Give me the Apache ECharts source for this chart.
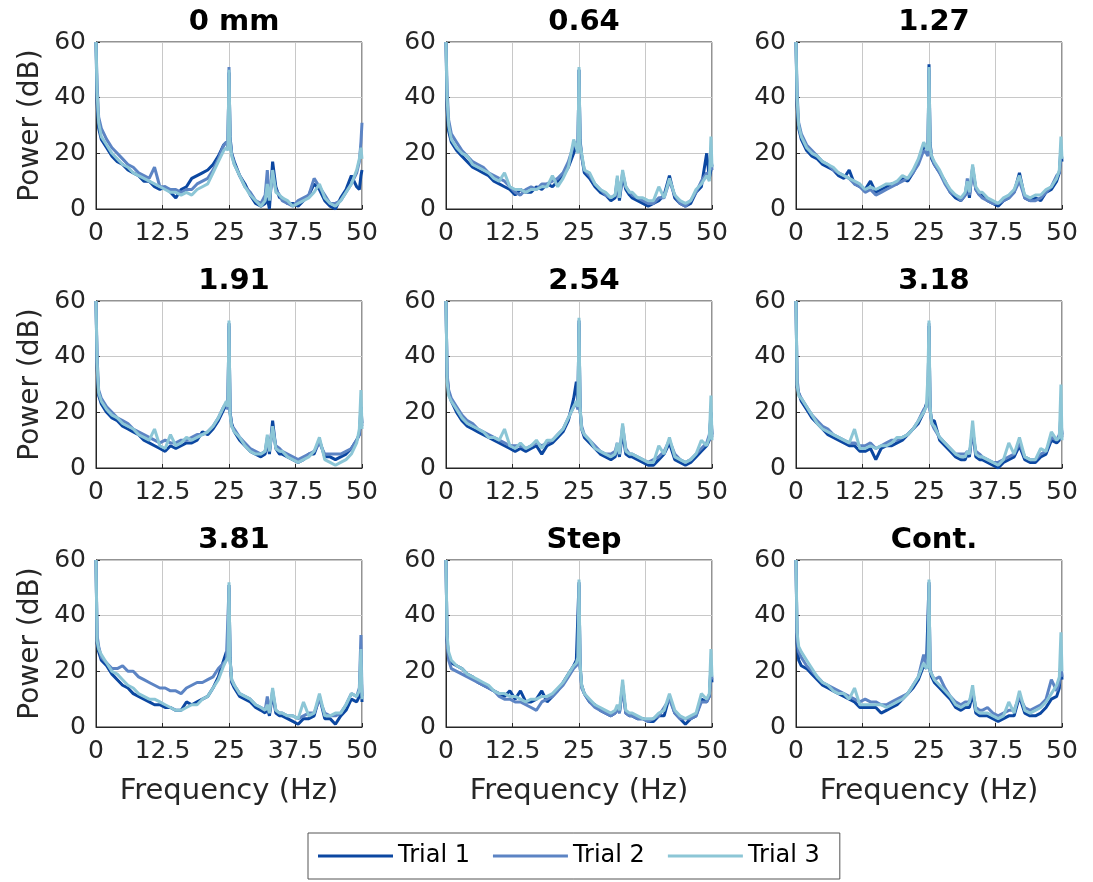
<!DOCTYPE html>
<html>
<head>
<meta charset="utf-8">
<script src="https://cdn.jsdelivr.net/npm/echarts@6/dist/echarts.min.js"></script>
<style>
html,body{margin:0;padding:0;background:#fff;}
#chart{width:1093px;height:882px;}
</style>
</head>
<body>
<div id="chart"></div>
<script>
// Frequency samples (Hz), shared by every series
const FREQ = [
  0, 0.2, 0.5, 1,
  2, 3, 4, 5, 6, 7, 8, 9, 10, 11, 12, 13, 14, 15, 16, 17, 18, 19, 20, 21, 22, 23,
  24, 24.5, 24.8, 25, 25.2, 25.5,
  26, 27, 28, 29, 30, 31,
  31.8, 32.2, 32.6, 33.2, 33.8, 34.5,
  35, 36, 37, 38, 39, 40, 41, 42, 43, 44, 45, 46, 47, 48, 49,
  49.5, 49.8, 50
];
const PANEL_TITLES = ['0 mm', '0.64', '1.27', '1.91', '2.54', '3.18', '3.81', 'Step', 'Cont.'];
const TRIAL_NAMES = ['Trial 1', 'Trial 2', 'Trial 3'];
const X_TICKS = [0, 12.5, 25, 37.5, 50];
const Y_TICKS = [0, 20, 40, 60];

// ---- 0 mm ----
const P0_T1 = [60,38,29,25, 22,19,17,16,14,13,12,10,10,8,7,8,6,4,7,8,11,12,13,14,16,19, 23,24,23,49,26,20, 17,12,9,5,2,1, 2,4,0,17,8,4, 4,2,2,1,3,5,9,7,3,1,0,4,7,12,8, 7,12,14];
const P0_T2 = [60,45,33,29, 25,22,20,18,16,15,13,12,11,15,8,8,7,7,6,7,7,9,10,11,14,18, 23,24,22,51,25,20, 16,12,8,6,3,2, 5,14,4,12,7,5, 3,2,1,3,4,5,11,8,5,2,2,3,6,9,13, 17,24,31];
const P0_T3 = [60,42,31,26, 23,20,18,16,15,13,12,11,10,9,8,7,6,6,5,6,5,7,8,9,13,17, 21,22,21,50,24,19, 16,12,8,5,3,1, 3,9,3,14,6,5, 4,3,1,2,3,4,6,9,4,2,1,3,6,9,14, 18,22,18];
// ---- 0.64 ----
const P1_T1 = [60,36,28,24, 21,19,17,15,14,13,12,10,9,8,7,5,7,6,6,8,7,9,8,10,12,15, 20,23,21,50,25,19, 13,11,8,6,5,3, 4,10,3,12,7,5, 4,3,2,1,2,3,5,12,4,2,1,2,6,8,20, 11,14,16];
const P1_T2 = [60,43,32,27, 24,21,19,17,16,15,13,12,11,10,8,6,5,7,8,7,9,9,10,11,13,17, 23,24,21,50,24,19, 14,12,9,7,5,4, 5,11,5,13,8,6, 5,4,3,2,2,4,4,10,5,2,1,3,6,10,13, 12,20,14];
const P1_T3 = [60,40,30,25, 22,20,19,16,15,14,13,11,10,13,8,7,7,6,7,7,8,8,12,8,11,15, 25,22,20,51,23,20, 14,13,9,7,6,4, 5,12,4,14,8,6, 6,4,4,3,3,8,4,11,5,3,2,3,7,9,12, 10,26,15];
// ---- 1.27 ----
const P2_T1 = [60,37,29,25, 21,19,18,16,15,14,12,11,14,9,8,7,10,6,7,8,9,9,11,10,13,17, 22,23,20,52,24,18, 16,13,10,6,4,3, 5,9,4,15,7,5, 5,3,2,1,3,4,6,13,4,3,4,3,6,7,10, 13,22,17];
const P2_T2 = [60,42,31,27, 23,21,19,17,16,14,13,12,11,9,8,6,7,5,6,7,8,9,10,11,13,16, 21,20,19,50,23,19, 16,13,9,6,5,3, 5,11,5,14,7,5, 4,3,2,2,3,4,6,10,4,3,3,4,6,8,12, 13,19,18];
const P2_T3 = [60,40,30,26, 22,20,19,17,16,15,13,12,11,10,9,7,8,7,8,9,9,10,12,11,14,18, 24,22,21,51,22,19, 17,14,10,7,5,4, 6,10,6,16,8,6, 6,4,3,2,4,5,7,12,5,4,5,5,7,8,11, 14,26,18];
// ---- 1.91 ----
const P3_T1 = [60,36,26,23, 20,18,17,15,14,13,12,10,9,8,7,6,8,7,8,9,9,10,13,12,14,17, 21,23,24,52,20,16, 13,10,8,6,5,4, 5,10,5,17,7,5, 5,4,3,2,3,5,5,10,4,4,3,4,5,7,10, 12,22,16];
const P3_T2 = [60,40,28,25, 22,20,18,17,16,14,13,12,11,10,9,10,9,9,10,10,11,12,12,13,15,18, 22,23,21,51,20,15, 14,11,9,7,6,5, 6,11,6,14,8,7, 6,5,4,3,4,5,6,9,5,5,5,5,6,7,10, 12,18,15];
const P3_T3 = [60,38,27,24, 21,19,18,16,15,14,12,11,10,14,8,7,12,8,9,11,10,11,12,13,15,18, 22,24,22,53,19,15, 13,11,8,6,5,5, 6,12,6,15,7,6, 6,4,3,2,3,4,6,11,3,2,1,2,3,5,9, 14,28,14];
// ---- 2.54 ----
const P4_T1 = [60,33,27,24, 20,17,15,14,13,12,11,10,9,8,7,6,7,6,7,8,5,8,9,11,13,17, 25,31,23,53,21,14, 11,9,7,5,4,3, 4,8,4,13,5,4, 4,3,2,1,1,3,5,9,3,2,1,2,4,6,8, 10,20,12];
const P4_T2 = [60,34,28,25, 22,19,17,16,14,13,12,11,10,9,8,8,8,7,8,9,8,9,10,12,14,18, 22,23,21,52,21,15, 12,10,8,6,5,5, 6,9,5,15,7,5, 5,4,3,2,3,4,6,10,5,3,2,3,5,7,9, 12,18,11];
const P4_T3 = [60,31,26,24, 21,18,16,15,14,13,11,11,10,14,8,7,9,7,8,10,7,10,10,12,14,18, 22,24,22,54,22,14, 12,10,7,6,5,4, 5,9,5,16,6,5, 5,4,3,2,2,8,5,11,4,3,2,3,5,10,8, 11,26,10];
// ---- 3.18 ----
const P5_T1 = [60,29,27,24, 21,18,16,14,12,11,10,9,8,8,6,6,7,3,7,8,8,9,10,12,14,16, 20,23,24,51,21,17, 17,10,8,6,4,3, 3,5,4,14,4,3, 3,2,1,0,2,3,4,8,3,2,2,4,5,10,9, 10,16,12];
const P5_T2 = [60,32,27,25, 22,19,17,15,14,12,11,10,9,9,8,8,9,7,8,9,10,10,11,12,14,17, 21,22,23,52,21,16, 14,11,9,7,5,5, 5,6,5,13,6,5, 4,3,2,2,3,4,5,9,4,3,3,5,6,11,10, 12,19,11];
const P5_T3 = [60,30,26,25, 22,19,16,14,13,12,11,10,9,14,7,7,8,7,8,8,9,11,11,12,14,17, 20,22,33,53,22,16, 15,11,9,7,5,4, 4,6,5,17,5,4, 4,3,2,1,3,9,5,11,4,3,3,7,6,13,10, 11,30,10];
// ---- 3.81 ----
const P6_T1 = [60,30,27,24, 22,19,17,15,14,12,11,10,9,8,8,7,7,6,6,9,8,9,10,11,14,18, 24,27,26,51,25,16, 14,11,10,9,7,6, 5,7,4,12,5,4, 4,3,2,1,3,3,4,11,3,3,1,4,6,10,9, 11,24,9];
const P6_T2 = [60,33,29,25, 23,21,21,22,20,20,18,17,16,15,14,14,13,13,12,14,15,16,16,17,18,21, 23,24,24,50,24,17, 15,12,11,10,8,7, 6,11,5,13,6,5, 5,4,4,3,4,5,5,10,5,4,4,5,8,12,11, 14,33,11];
const P6_T3 = [60,31,28,26, 23,20,19,17,15,14,12,11,10,10,9,8,7,6,6,7,8,8,10,11,14,17, 22,24,25,52,24,17, 15,12,11,10,8,7, 6,8,5,14,6,5, 5,4,4,3,9,4,5,12,4,4,5,5,8,12,11, 13,28,10];
// ---- Step ----
const P7_T1 = [60,31,26,23, 22,21,19,18,16,15,14,13,12,11,13,10,13,9,9,10,13,9,11,13,16,19, 22,24,24,52,22,15, 12,9,8,6,5,4, 5,7,5,15,5,4, 4,3,3,2,2,4,4,11,5,3,1,3,4,10,9, 11,22,16];
const P7_T2 = [60,30,24,21, 20,19,18,17,16,15,14,13,11,10,10,9,9,8,7,6,9,10,11,13,15,18, 21,22,23,51,22,14, 12,9,7,6,5,4, 5,7,5,14,5,4, 4,3,3,2,3,4,7,10,5,3,3,3,4,9,9, 11,20,17];
const P7_T3 = [60,33,27,24, 22,21,19,18,17,16,15,13,12,12,11,11,10,9,10,10,11,11,12,14,16,19, 22,23,25,53,23,15, 12,10,8,7,6,5, 6,8,6,17,6,5, 5,4,3,3,3,5,6,12,6,4,3,4,5,12,10, 12,28,18];
// ---- Cont. ----
const P8_T1 = [60,30,24,22, 21,19,17,15,14,13,12,11,10,9,7,7,7,7,5,6,7,8,10,12,14,17, 22,21,21,52,20,18, 16,14,12,10,7,6, 7,7,7,12,5,4, 4,4,3,2,3,4,4,11,5,4,4,5,7,10,11, 14,24,17];
const P8_T2 = [60,32,27,25, 22,20,18,16,15,14,13,12,11,10,9,10,9,9,8,8,9,10,11,12,15,18, 26,22,21,51,21,19, 17,18,14,11,9,8, 9,9,9,13,7,6, 6,7,5,4,5,6,6,11,7,6,7,8,10,17,13, 16,22,18];
const P8_T3 = [60,34,29,27, 24,21,18,16,15,13,12,12,10,14,8,8,8,8,8,7,8,9,10,12,15,18, 23,21,22,53,20,19, 17,15,13,11,8,7, 8,8,9,15,6,5, 5,5,4,3,4,9,5,13,6,5,6,7,9,12,15, 18,34,20];

const PANELS = [
  [P0_T1, P0_T2, P0_T3], [P1_T1, P1_T2, P1_T3], [P2_T1, P2_T2, P2_T3],
  [P3_T1, P3_T2, P3_T3], [P4_T1, P4_T2, P4_T3], [P5_T1, P5_T2, P5_T3],
  [P6_T1, P6_T2, P6_T3], [P7_T1, P7_T2, P7_T3], [P8_T1, P8_T2, P8_T3]
];

// ---- layout & style ----
const COL_LEFT = [96, 446, 796];
const ROW_TOP = [42, 301, 560];
const PW = 266, PH = 167;
const COLORS = ['#0b47a1', '#5c84c4', '#8cc6d6'];
const AXIS_COLOR = '#262626';
const FONT = 'DejaVu Sans';

const grids = [], xAxes = [], yAxes = [], titles = [], series = [];
for (let i = 0; i < 9; i++) {
  const r = Math.floor(i / 3), c = i % 3;
  grids.push({
    left: COL_LEFT[c], top: ROW_TOP[r], width: PW, height: PH,
    show: true, borderColor: AXIS_COLOR, borderWidth: 1, backgroundColor: 'transparent'
  });
  xAxes.push({
    gridIndex: i, type: 'value', min: X_TICKS[0], max: X_TICKS[X_TICKS.length - 1],
    interval: X_TICKS[1] - X_TICKS[0],
    name: r === 2 ? 'Frequency (Hz)' : '', nameLocation: 'middle', nameGap: 50,
    nameTextStyle: { fontFamily: FONT, fontSize: 29, color: AXIS_COLOR },
    axisLine: { show: true, lineStyle: { color: AXIS_COLOR, width: 1 } },
    axisTick: { show: true, inside: true, length: 4, lineStyle: { color: AXIS_COLOR } },
    axisLabel: { fontFamily: FONT, fontSize: 25, color: AXIS_COLOR, margin: 12,
      showMinLabel: true, showMaxLabel: true },
    splitLine: { show: true, lineStyle: { color: '#c8c8c8', width: 1 } }
  });
  yAxes.push({
    gridIndex: i, type: 'value', min: Y_TICKS[0], max: Y_TICKS[Y_TICKS.length - 1],
    interval: Y_TICKS[1] - Y_TICKS[0],
    name: c === 0 ? 'Power (dB)' : '', nameLocation: 'middle', nameGap: 51, nameRotate: 90,
    nameTextStyle: { fontFamily: FONT, fontSize: 28, color: AXIS_COLOR },
    axisLine: { show: true, lineStyle: { color: AXIS_COLOR, width: 1 } },
    axisTick: { show: true, inside: true, length: 4, lineStyle: { color: AXIS_COLOR } },
    axisLabel: { fontFamily: FONT, fontSize: 25, color: AXIS_COLOR, margin: 10 },
    splitLine: { show: true, lineStyle: { color: '#c8c8c8', width: 1 } }
  });
  titles.push({
    text: PANEL_TITLES[i], left: COL_LEFT[c] + PW / 2, top: ROW_TOP[r] - 39, textAlign: 'center',
    textStyle: { fontFamily: FONT, fontSize: 29, fontWeight: 'bold', color: '#000' }
  });
  PANELS[i].forEach((vals, t) => {
    series.push({
      name: TRIAL_NAMES[t], type: 'line', xAxisIndex: i, yAxisIndex: i,
      data: FREQ.map((f, k) => [f, vals[k]]),
      symbol: 'none', showSymbol: false, animation: false,
      lineStyle: { color: COLORS[t], width: 3 }, itemStyle: { color: COLORS[t] },
      z: 2 + t
    });
  });
}

const chart = echarts.init(document.getElementById('chart'), null, { renderer: 'canvas' });
chart.setOption({
  animation: false,
  backgroundColor: '#fff',
  title: titles,
  grid: grids,
  xAxis: xAxes,
  yAxis: yAxes,
  legend: {
    data: TRIAL_NAMES.map((n, t) => ({ name: n, icon: 'rect', itemStyle: { color: COLORS[t] } })),
    left: 308, top: 833, orient: 'horizontal',
    padding: [11, 20, 11, 10], itemGap: 23, itemWidth: 75, itemHeight: 3,
    borderColor: '#555', borderWidth: 1,
    textStyle: { fontFamily: FONT, fontSize: 24, color: '#000' }
  },
  series: series
});
</script>
</body>
</html>
